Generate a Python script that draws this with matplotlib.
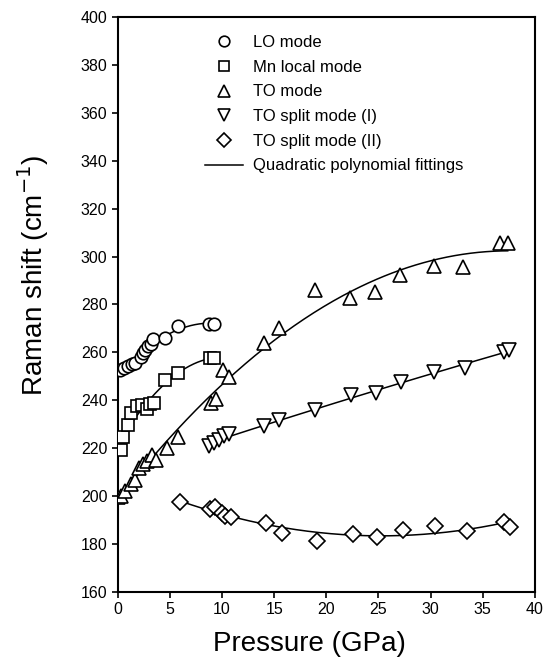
"""Raman shift vs pressure, with quadratic fits per mode."""

import numpy as np
import matplotlib

matplotlib.use("Agg")
import matplotlib.pyplot as plt
from matplotlib.lines import Line2D

plt.rcParams["font.family"] = ["Liberation Sans", "DejaVu Sans"]

# ── data (pressure GPa, Raman shift cm^-1) ──────────────────────────────

lo_p = [0.2, 0.6, 1.0, 1.4, 1.6, 2.2, 2.4, 2.6, 2.9, 3.2, 3.4, 4.5, 5.8, 8.7, 9.2]
lo_w = [252.7, 253.5, 254.3, 255.2, 255.6, 258.0, 259.6, 261.0, 262.6, 263.5,
        265.5, 265.8, 271.0, 271.8, 272.0]

mn_p = [0.3, 0.5, 1.0, 1.3, 1.8, 2.3, 2.8, 3.1, 3.5, 4.5, 5.8, 8.8, 9.2]
mn_w = [219.0, 224.5, 229.5, 234.8, 237.5, 237.8, 236.5, 238.5, 239.0, 248.3,
        251.2, 257.6, 257.8]

to_p = [0.0, 0.3, 0.7, 1.3, 1.6, 2.0, 2.4, 2.8, 3.3, 3.7, 4.7, 5.8, 8.9, 9.4,
        10.1, 10.7, 14.0, 15.5, 18.9, 22.3, 24.7, 27.1, 30.3, 33.1, 36.7, 37.4]
to_w = [199.6, 199.8, 202.0, 205.0, 206.7, 211.5, 213.2, 214.5, 217.0, 215.2,
        219.9, 224.8, 239.0, 240.5, 252.5, 249.8, 263.8, 270.1, 286.1, 282.6,
        285.4, 292.4, 296.2, 295.8, 305.8, 305.6]

s1_p = [8.7, 9.2, 9.7, 10.2, 10.7, 14.0, 15.5, 18.9, 22.4, 24.8, 27.2, 30.3,
        33.3, 37.0, 37.5]
s1_w = [221.0, 222.0, 223.5, 225.0, 226.0, 229.0, 231.8, 235.9, 242.0, 242.9,
        247.8, 251.8, 253.3, 260.3, 261.0]

s2_p = [5.95, 8.8, 9.3, 9.95, 10.3, 10.9, 14.2, 15.7, 19.1, 22.6, 24.9, 27.4,
        30.4, 33.5, 37.0, 37.6]
s2_w = [197.6, 194.4, 195.5, 192.8, 191.6, 191.1, 188.6, 184.4, 181.3, 184.1,
        183.0, 185.8, 187.5, 185.5, 189.3, 186.9]

series = [
    (lo_p, lo_w, "o", 9.0, "LO mode"),
    (mn_p, mn_w, "s", 8.5, "Mn local mode"),
    (to_p, to_w, "^", 9.5, "TO mode"),
    (s1_p, s1_w, "v", 9.5, "TO split mode (I)"),
    (s2_p, s2_w, "D", 8.5, "TO split mode (II)"),
]

fig = plt.figure(figsize=(5.48, 6.64), dpi=100)
ax = fig.add_axes([0.215, 0.109, 0.761, 0.865])

handles = []
for p, w, mk, ms, label in series:
    p = np.asarray(p)
    w = np.asarray(w)
    # quadratic polynomial fit over the measured range
    coef = np.polyfit(p, w, 2)
    xs = np.linspace(p.min(), p.max(), 200)
    ax.plot(xs, np.polyval(coef, xs), color="black", lw=1.1, zorder=2)
    ax.plot(p, w, linestyle="none", marker=mk, ms=ms, mfc="white",
            mec="black", mew=1.2, zorder=3)
    handles.append(Line2D([], [], linestyle="none", marker=mk, ms=ms * 0.85,
                          mfc="white", mec="black", mew=1.2, label=label))
handles.append(Line2D([], [], color="black", lw=1.1,
                      label="Quadratic polynomial fittings"))

ax.legend(handles=handles, loc="upper left", bbox_to_anchor=(0.209, 0.969),
          frameon=False, fontsize=12, handlelength=2.3, handletextpad=0.6,
          labelspacing=0.58, borderpad=0, borderaxespad=0)

ax.set_xlim(0, 40)
ax.set_ylim(160, 400)
ax.set_xticks(np.arange(0, 41, 5))
ax.set_yticks(np.arange(160, 401, 20))
ax.tick_params(direction="out", length=4, width=1.2, labelsize=11.5,
               top=False, right=False)
for s in ax.spines.values():
    s.set_linewidth(1.5)

ax.set_xlabel("Pressure (GPa)", fontsize=20)
ax.set_ylabel("Raman shift (cm$^{-1}$)", fontsize=20)
ax.xaxis.set_label_coords(0.46, -0.068)
ax.yaxis.set_label_coords(-0.16, 0.55)

fig.savefig("out.png", dpi=100)
